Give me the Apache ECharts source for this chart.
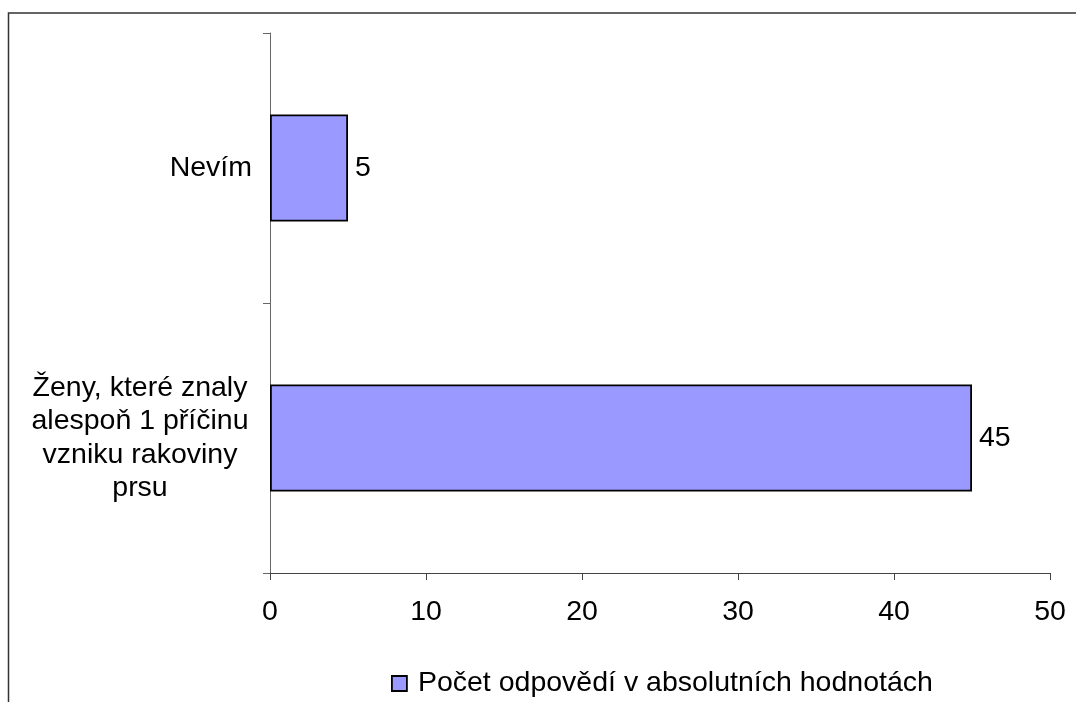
<!DOCTYPE html>
<html>
<head>
<meta charset="utf-8">
<script src="https://cdn.jsdelivr.net/npm/echarts@6/dist/echarts.min.js"></script>
<style>
  html, body { margin: 0; padding: 0; background: #fff; }
  #main { width: 1076px; height: 702px; }
</style>
</head>
<body>
<div id="main"></div>
<script>
let categories = ['Ženy, které znaly\nalespoň 1 příčinu\nvzniku rakoviny\nprsu', 'Nevím'];
let counts = [45, 5];
let seriesName = 'Počet odpovědí v absolutních hodnotách';

let chartDom = document.getElementById('main');
let myChart = echarts.init(chartDom);
let font = '"Liberation Sans", Arial, sans-serif';
let fs = 28.5;

let option = {
  animation: false,
  backgroundColor: '#fff',
  textStyle: { fontFamily: font },
  graphic: [
    {
      type: 'rect',
      shape: { x: 8.5, y: 13, width: 1200, height: 1000 },
      style: { fill: 'none', stroke: '#333', lineWidth: 1.5 },
      silent: true
    }
  ],
  legend: {
    left: 391,
    top: 669,
    padding: 0,
    icon: 'rect',
    itemWidth: 15,
    itemHeight: 15,
    itemStyle: { borderColor: '#000', borderWidth: 1.8 },
    textStyle: { fontSize: fs, color: '#000', fontFamily: font, padding: [0, 0, 0, 6] },
    data: [seriesName]
  },
  grid: {
    left: 270,
    right: 26,
    top: 33,
    bottom: 129,
    containLabel: false
  },
  xAxis: {
    type: 'value',
    min: 0,
    max: 50,
    interval: 10,
    axisLine: { show: true, lineStyle: { color: '#444', width: 1 } },
    axisTick: { show: true, length: 7, lineStyle: { color: '#444' } },
    axisLabel: { fontSize: fs, color: '#000', margin: 25, fontFamily: font },
    splitLine: { show: false }
  },
  yAxis: {
    type: 'category',
    data: categories,
    axisLine: { show: true, lineStyle: { color: '#666', width: 1 } },
    axisTick: { show: true, length: 7, lineStyle: { color: '#666' } },
    axisLabel: {
      fontSize: fs,
      color: '#000',
      margin: 18,
      fontFamily: font,
      formatter: function (v) {
        if (v.indexOf('\n') < 0) return v;
        return v.split('\n').map(function (s) { return '{c|' + s + '}'; }).join('\n');
      },
      rich: {
        c: { width: 224, align: 'center', fontSize: fs, lineHeight: 33.5, color: '#000', fontFamily: font }
      }
    },
    splitLine: { show: false }
  },
  series: [
    {
      name: seriesName,
      type: 'bar',
      data: counts,
      barWidth: 107,
      itemStyle: { color: '#9999FF', borderColor: '#000', borderWidth: 1.8 },
      label: {
        show: true,
        position: 'right',
        distance: 7,
        fontSize: fs,
        color: '#000',
        fontFamily: font
      }
    }
  ]
};

myChart.setOption(option);
</script>
</body>
</html>
